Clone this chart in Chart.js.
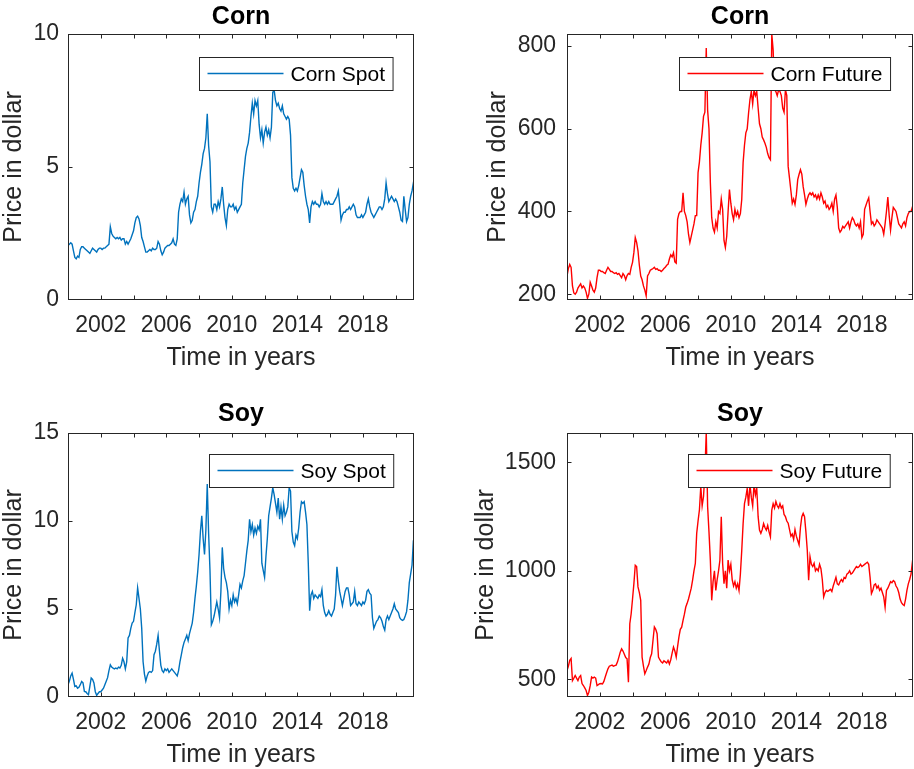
<!DOCTYPE html>
<html>
<head>
<meta charset="utf-8">
<script src="https://cdn.jsdelivr.net/npm/chart.js@4/dist/chart.umd.min.js"></script>
<style>
  html, body { margin: 0; padding: 0; background: #fff; overflow: hidden; }
  canvas { position: absolute; }
</style>
</head>
<body>
<canvas id="cornSpotChart" width="457" height="385" style="left:0px;top:0px"></canvas>
<canvas id="cornFutureChart" width="457" height="385" style="left:457px;top:0px"></canvas>
<canvas id="soySpotChart" width="457" height="384" style="left:0px;top:385px"></canvas>
<canvas id="soyFutureChart" width="457" height="384" style="left:457px;top:385px"></canvas>
<script>
// Monthly prices, January 2000 onwards (one value per month)
const startYear = 2000;

// Time axis ticks (every two years, labelled every four)
const yearTicks  = [2000, 2002, 2004, 2006, 2008, 2010, 2012, 2014, 2016, 2018, 2020];
const yearLabels = ['', '2002', '', '2006', '', '2010', '', '2014', '', '2018', ''];

// Price axis ticks
const cornSpotTicks   = [0, 5, 10];
const cornFutureTicks = [200, 400, 600, 800];
const soySpotTicks    = [0, 5, 10, 15];
const soyFutureTicks  = [500, 1000, 1500];

const cornSpot = [
  2.05, 2.1, 2.15, 2.1, 1.85, 1.6, 1.55, 1.65, 1.6, 1.9, 2.0, 2.0,
  1.95, 1.9, 1.85, 1.8, 1.75, 1.85, 1.95, 1.9, 1.85, 1.8, 1.9, 1.95,
  1.95, 1.9, 1.95, 1.95, 2.0, 2.05, 2.1, 2.75, 2.5, 2.4, 2.35, 2.3,
  2.35, 2.3, 2.35, 2.25, 2.3, 2.3, 2.1, 2.2, 2.1, 2.2, 2.3, 2.45,
  2.6, 2.9, 3.1, 3.15, 3.05, 2.8, 2.35, 2.2, 2.0, 1.8, 1.8, 1.85,
  1.9, 1.85, 1.95, 1.9, 1.9, 1.95, 2.2, 2.1, 1.85, 1.7, 1.8, 1.95,
  2.0, 2.05, 2.05, 2.1, 2.15, 2.3, 2.1, 2.05, 2.3, 3.3, 3.6, 3.8,
  3.7, 4.05, 3.6, 3.8, 3.9, 3.2, 2.9, 3.0, 3.3, 3.4, 3.7, 3.9,
  4.4, 4.8, 5.1, 5.5, 5.7, 6.1, 7.0, 5.8, 5.2, 3.5, 3.3, 3.6,
  3.6, 3.4, 3.7, 3.5, 3.8, 4.25, 3.6, 3.1, 2.8, 3.4, 3.6, 3.5,
  3.5, 3.6, 3.4, 3.5, 3.3, 3.4, 3.5, 3.6, 4.4, 4.9, 5.4, 5.7,
  5.9, 6.3, 6.9, 7.4, 7.0, 7.5, 7.3, 7.5, 6.6, 6.1, 6.4, 5.9,
  6.3, 6.5, 6.2, 6.4, 6.1, 6.5, 7.8, 7.9, 7.5, 7.3, 7.4, 7.2,
  7.1, 7.3, 7.0, 6.9, 6.8, 6.9, 6.8, 6.2, 4.6, 4.2, 4.1, 4.2,
  4.1, 4.3, 4.6, 4.9, 4.8, 4.3, 3.9, 3.6, 3.4, 2.9, 3.5, 3.7,
  3.6, 3.7, 3.6, 3.6, 3.5, 3.6, 4.0, 3.7, 3.6, 3.7, 3.6, 3.7,
  3.6, 3.6, 3.6, 3.7, 3.8, 3.9, 4.1, 3.6, 3.0, 3.2, 3.3, 3.3,
  3.4, 3.4, 3.5, 3.4, 3.5, 3.6, 3.5, 3.2, 3.1, 3.1, 3.1, 3.2,
  3.1, 3.2, 3.3, 3.6, 3.8, 3.5, 3.3, 3.2, 3.1, 3.2, 3.3, 3.4,
  3.5, 3.5, 3.4, 3.5, 3.8, 4.4, 4.0, 3.7, 3.8, 3.9, 3.8, 3.7,
  3.8, 3.7, 3.5, 3.3, 3.0, 2.95, 3.9, 3.4, 2.95, 3.1, 3.6, 3.9,
  4.1, 4.4, 4.7
];

const cornFuture = [
  244, 262, 272, 265, 220, 203, 200, 205, 215, 220, 225, 215,
  220, 215, 205, 190, 200, 229, 220, 210, 205, 215, 240, 258,
  258, 255, 255, 252, 250, 258, 265, 260, 255, 255, 252, 250,
  252, 248, 250, 245, 240, 250, 245, 235, 245, 250, 248, 265,
  277, 301, 337, 325, 305, 270, 244, 235, 220, 210, 196, 244,
  250, 258, 260, 262, 265, 260, 262, 258, 258, 255, 258, 262,
  265, 270, 272, 285, 295, 290, 300, 278, 275, 381, 395, 400,
  400, 445, 400, 390, 375, 345, 325, 340, 355, 370, 390, 390,
  494, 520, 560, 590, 630, 640, 795, 645, 600, 470, 385, 360,
  350, 375, 360, 400, 395, 430, 405, 330, 313, 340, 400, 453,
  420, 395, 380, 405, 390, 400, 385, 395, 429, 518, 560, 590,
  600, 638, 670, 690, 660, 694, 680, 690, 650, 612, 600, 580,
  573, 565, 555, 540, 530, 525, 829, 790, 694, 690, 680, 694,
  690, 680, 650, 640, 694, 680, 509, 480, 450, 420, 430, 417,
  440, 477, 490, 501, 490, 460, 440, 417, 430, 440, 445, 440,
  445, 435, 440, 430, 440, 430, 445, 435, 420, 425, 410, 415,
  405, 410, 420, 400, 430, 440, 410, 360, 350, 355, 364, 360,
  365, 370, 375, 360, 375, 385, 380, 370, 365, 370, 360, 375,
  337, 345, 405, 415, 425, 433, 400, 370, 375, 365, 370, 380,
  375, 370, 365, 360, 345, 370, 400, 435, 390, 355, 385, 410,
  405, 400, 385, 370, 365, 360, 370, 375, 365, 385, 395, 400,
  400, 410, 430
];

const soySpot = [
  0.7, 0.9, 1.2, 1.36, 1.0, 0.6, 0.63, 0.5, 0.55, 0.7, 0.88, 0.8,
  0.32, 0.3, 0.2, 0.13, 0.6, 1.08, 1.0, 0.8, 0.3, 0.1, 0.2, 0.3,
  0.3, 0.4, 0.5, 0.7, 0.9, 1.1, 1.5, 1.83, 1.7, 1.64, 1.6, 1.65,
  1.6, 1.7, 1.65, 1.8, 2.2, 2.0, 1.6, 2.0, 3.35, 3.5, 3.9, 4.2,
  4.3, 4.8, 5.24, 6.2, 5.6, 5.0, 3.9, 2.0, 1.3, 0.9, 1.2, 1.4,
  1.45, 1.4, 1.5, 2.4, 2.6, 3.0, 3.5, 2.6, 1.8, 1.5, 1.4, 1.6,
  1.5, 1.6, 1.4, 1.5, 1.6, 1.5, 1.4, 1.3, 1.2, 1.5, 2.0, 2.4,
  2.8, 3.1, 3.3, 3.5, 3.2, 3.6, 3.9, 4.2, 4.8, 5.6, 6.3, 7.1,
  8.1, 9.4, 10.3, 9.0, 8.1, 9.5, 12.1, 9.3, 7.2, 4.1, 4.3, 4.6,
  5.0, 5.4, 5.0, 4.5, 6.0, 8.5, 7.3, 6.8, 6.5, 6.0, 5.0, 5.5,
  5.2, 5.8, 5.4, 5.6, 5.3, 5.8, 6.4, 6.2, 6.6, 6.9, 7.6, 8.3,
  8.9, 10.1, 9.4, 9.8, 9.2, 9.6, 9.3, 9.7, 9.5, 10.1, 7.6, 7.2,
  6.8, 8.0, 9.0, 10.3, 10.8, 11.3, 11.9, 11.5, 11.0, 10.5, 11.3, 10.1,
  10.8, 10.1, 10.9, 10.3, 10.5, 10.8, 11.9, 11.7, 9.4, 8.8, 8.6, 9.2,
  9.0, 9.6, 10.5, 11.1, 11.0, 11.1, 10.5, 9.8, 7.6, 4.9, 5.8, 6.0,
  5.6, 5.8, 5.7, 5.6, 5.8, 5.7, 6.1, 5.2, 4.8, 4.6, 4.7, 4.9,
  4.7, 4.6, 4.8, 5.0, 5.8, 7.4, 6.6, 6.0, 5.6, 5.2, 5.6, 6.0,
  6.2, 6.2, 5.8, 5.2, 5.3, 5.4, 6.0, 5.3, 5.2, 5.4, 5.3, 5.2,
  5.4, 5.3, 5.5, 6.0, 6.1, 5.9, 5.8, 4.5, 3.9, 4.1, 4.3, 4.4,
  4.6, 4.5, 4.3, 4.0, 3.8, 4.4, 4.6, 4.4, 4.6, 4.8, 5.0, 5.3,
  5.0, 4.9, 4.8, 4.5, 4.4, 4.35, 4.4, 4.6, 4.85, 5.5, 6.5, 7.0,
  7.5, 8.9, 8.0
];

const soyFuture = [
  540, 560, 587, 596, 494, 505, 517, 505, 494, 510, 517, 480,
  471, 460, 448, 425, 440, 470, 510, 505, 510, 505, 471, 475,
  479, 480, 478, 490, 510, 530, 548, 560, 563, 565, 560, 563,
  565, 580, 602, 625, 640, 630, 615, 600, 594, 486, 756, 802,
  870, 941, 1026, 1020, 926, 900, 864, 602, 560, 525, 540, 556,
  570, 600, 617, 680, 741, 730, 710, 602, 590, 580, 575, 585,
  580, 575, 587, 570, 590, 620, 648, 630, 602, 650, 695, 730,
  740, 772, 800, 833, 850, 870, 895, 920, 957, 1000, 1034, 1173,
  1230, 1281, 1389, 1300, 1343, 1450, 1640, 1297, 1180, 1049, 864, 950,
  1000, 910, 960, 1000, 1049, 1250, 1034, 941, 1000, 920, 1050, 1000,
  1030, 960, 930, 950, 920, 940, 909, 985, 1094, 1218, 1310, 1340,
  1380, 1300, 1400, 1340, 1300, 1400, 1350, 1380, 1250, 1188, 1173, 1190,
  1218, 1200, 1188, 1210, 1180, 1157, 1280, 1310, 1290, 1320, 1300, 1290,
  1310, 1290, 1300, 1260, 1250, 1230, 1220, 1190, 1160, 1170, 1145, 1190,
  1160, 1140, 1120, 1200, 1250, 1265, 1250, 1180, 1095, 957, 1065, 1030,
  1020, 1035, 1000, 1010, 1000, 1030, 1010, 960, 880, 900, 910, 905,
  910, 915, 905, 930, 950, 970, 940, 935, 950, 960, 950, 970,
  965, 985, 990, 1000, 985, 990, 1000, 1010, 1020, 1015, 1020, 1030,
  1020, 1025, 1030, 1035, 1040, 1030, 970, 895, 910, 935, 940, 920,
  930, 910, 920, 900, 880, 832, 910, 920, 935, 950, 945, 955,
  950, 930, 920, 900, 870, 853, 845, 840, 870, 910, 940, 960,
  985, 1040, 1095
];

const FONT = "'Liberation Sans', Arial, Helvetica, sans-serif";
const AXIS_COLOR = '#262626';
const BLUE = '#0072BD';
const RED = '#FF0000';

// Frame, inward tick marks, panel title and legend box (drawn over the data)
function makeFrame(p) {
  return {
    id: 'frame_' + p.id,
    afterDatasetsDraw(chart) {
      const { ctx, chartArea: a, scales: { x, y } } = chart;
      const L = Math.round(a.left) + 0.5, R = Math.round(a.right) - 0.5;
      const T = Math.round(a.top) + 0.5, B = Math.round(a.bottom) - 0.5;
      const tickLen = 4;
      ctx.save();
      ctx.strokeStyle = AXIS_COLOR;
      ctx.lineWidth = 1;
      ctx.beginPath();
      x.ticks.forEach(t => {
        const px = Math.round(x.getPixelForValue(t.value)) + 0.5;
        if (px <= L + 1 || px >= R - 1) return;
        ctx.moveTo(px, B); ctx.lineTo(px, B - tickLen);
        ctx.moveTo(px, T); ctx.lineTo(px, T + tickLen);
      });
      y.ticks.forEach(t => {
        const py = Math.round(y.getPixelForValue(t.value)) + 0.5;
        if (py <= T + 1 || py >= B - 1) return;
        ctx.moveTo(L, py); ctx.lineTo(L + tickLen, py);
        ctx.moveTo(R, py); ctx.lineTo(R - tickLen, py);
      });
      ctx.stroke();
      ctx.strokeRect(L, T, R - L, B - T);

      // title
      ctx.fillStyle = '#000';
      ctx.font = 'bold 25px ' + FONT;
      ctx.textAlign = 'center';
      ctx.textBaseline = 'middle';
      ctx.fillText(p.title, (a.left + a.right) / 2, p.titleY);

      // legend
      ctx.font = '21px ' + FONT;
      const tw = ctx.measureText(p.legend).width;
      const boxW = 8 + 76 + 7 + tw + 8, boxH = 33;
      const bx = Math.round(a.right - p.legendRight - boxW) + 0.5;
      const by = Math.round(a.top + p.legendTop) + 0.5;
      ctx.fillStyle = '#fff';
      ctx.fillRect(bx, by, boxW, boxH);
      ctx.strokeStyle = AXIS_COLOR;
      ctx.strokeRect(bx, by, boxW, boxH);
      const cy = by + boxH / 2;
      ctx.strokeStyle = p.color;
      ctx.lineWidth = 1.4;
      ctx.beginPath();
      ctx.moveTo(bx + 8, cy - 0.5); ctx.lineTo(bx + 84, cy - 0.5);
      ctx.stroke();
      ctx.fillStyle = '#000';
      ctx.textAlign = 'left';
      ctx.fillText(p.legend, bx + 91, cy + 1);
      ctx.restore();
    }
  };
}

function drawPanel(p) {
  const canvas = document.getElementById(p.id);
  const W = canvas.width, H = canvas.height;
  const points = p.values.map((v, i) => ({ x: startYear + i / 12, y: v }));
  new Chart(canvas, {
    type: 'line',
    data: {
      datasets: [{
        label: p.legend,
        data: points,
        borderColor: p.color,
        borderWidth: 1.4,
        pointRadius: 0,
        tension: 0,
        fill: false
      }]
    },
    options: {
      responsive: false,
      animation: false,
      devicePixelRatio: 1,
      layout: { padding: { left: 0, top: p.top, right: W - p.right, bottom: 0 } },
      plugins: {
        legend: { display: false },
        title: { display: false },
        tooltip: { enabled: false }
      },
      scales: {
        x: {
          type: 'linear',
          min: 2000,
          max: 2021.12,
          grid: { display: false, drawTicks: false },
          border: { display: false },
          afterBuildTicks: s => { s.ticks = yearTicks.map(v => ({ value: v })); },
          afterFit: s => { s.height = H - p.bottom; },
          ticks: {
            autoSkip: false, maxRotation: 0, minRotation: 0,
            padding: p.xTickPad,
            color: AXIS_COLOR,
            font: { family: FONT, size: 23, lineHeight: 1 },
            callback: v => yearLabels[yearTicks.indexOf(v)] ?? ''
          },
          title: {
            display: true, text: 'Time in years', color: AXIS_COLOR,
            font: { family: FONT, size: 25, lineHeight: 1 },
            padding: { top: 0, bottom: p.xTitlePad }
          }
        },
        y: {
          type: 'linear',
          min: p.yMin,
          max: p.yMax,
          grid: { display: false, drawTicks: false },
          border: { display: false },
          afterBuildTicks: s => { s.ticks = p.yTicks.map(v => ({ value: v })); },
          afterFit: s => { s.width = p.left; },
          ticks: {
            padding: p.yTickPad,
            color: AXIS_COLOR,
            font: { family: FONT, size: 23, lineHeight: 1 },
            callback: v => String(v)
          },
          title: {
            display: true, text: 'Price in dollar', color: AXIS_COLOR,
            font: { family: FONT, size: 25, lineHeight: 1 },
            padding: { top: p.yTitlePad, bottom: 0 }
          }
        }
      }
    },
    plugins: [makeFrame(p)]
  });
}

drawPanel({
  id: 'cornSpotChart', title: 'Corn', legend: 'Corn Spot', color: BLUE,
  values: cornSpot, yMin: 0, yMax: 10, yTicks: cornSpotTicks,
  left: 68, right: 414, top: 34, bottom: 300, titleY: 17,
  xTickPad: 14, xTitlePad: 14, yTickPad: 9, yTitlePad: 2,
  legendRight: 21, legendTop: 23
});
drawPanel({
  id: 'cornFutureChart', title: 'Corn', legend: 'Corn Future', color: RED,
  values: cornFuture, yMin: 186, yMax: 829, yTicks: cornFutureTicks,
  left: 110, right: 456, top: 34, bottom: 300, titleY: 17,
  xTickPad: 14, xTitlePad: 14, yTickPad: 11, yTitlePad: 29,
  legendRight: 23, legendTop: 23
});
drawPanel({
  id: 'soySpotChart', title: 'Soy', legend: 'Soy Spot', color: BLUE,
  values: soySpot, yMin: 0, yMax: 15, yTicks: soySpotTicks,
  left: 68, right: 414, top: 48, bottom: 312, titleY: 29.5,
  xTickPad: 14, xTitlePad: 1, yTickPad: 9, yTitlePad: 2,
  legendRight: 21, legendTop: 21
});
drawPanel({
  id: 'soyFutureChart', title: 'Soy', legend: 'Soy Future', color: RED,
  values: soyFuture, yMin: 418, yMax: 1636, yTicks: soyFutureTicks,
  left: 110, right: 456, top: 48, bottom: 312, titleY: 29.5,
  xTickPad: 14, xTitlePad: 1, yTickPad: 11, yTitlePad: 17,
  legendRight: 23, legendTop: 21
});
</script>
</body>
</html>
